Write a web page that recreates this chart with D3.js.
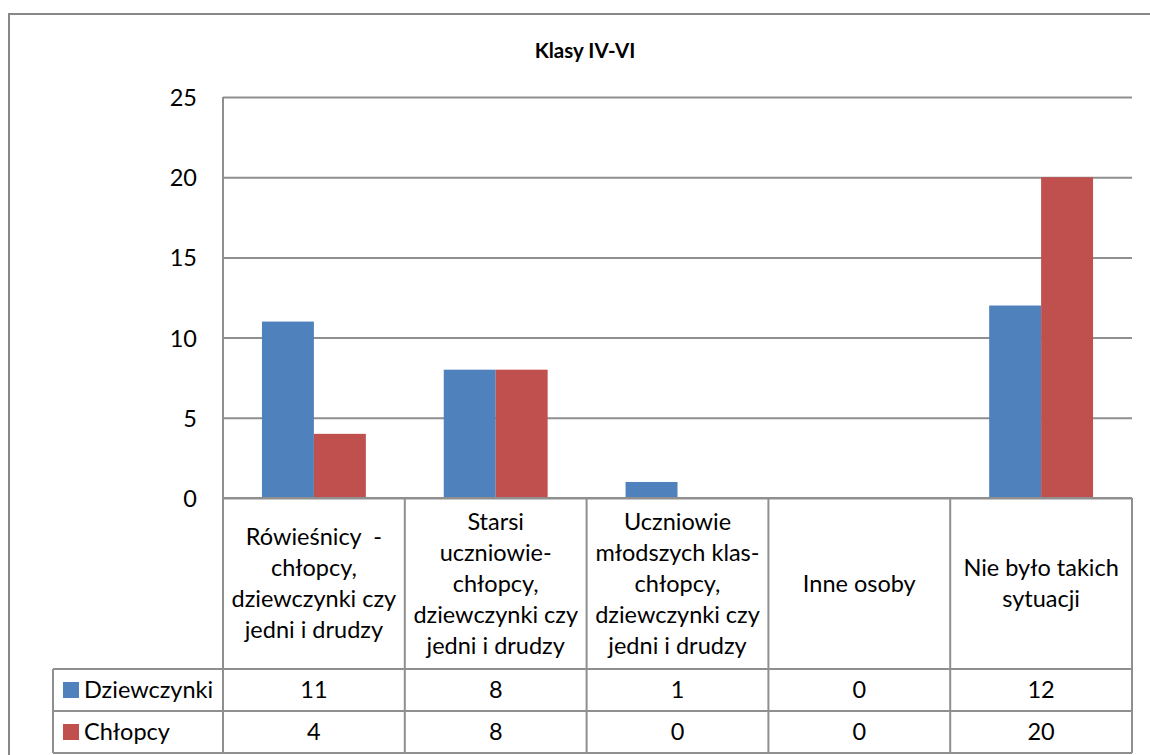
<!DOCTYPE html>
<html>
<head>
<meta charset="utf-8">
<script src="https://cdn.jsdelivr.net/npm/d3@7"></script>
<style>
  html, body { margin: 0; padding: 0; background: #fff; }
  svg { display: block; }
  text { font-family: Lato, "Open Sans", sans-serif; fill: #000; white-space: pre; }
</style>
</head>
<body>
<svg id="chart" width="1150" height="755"></svg>
<script>
// ---- data ----
const categories = [
  ["Rówieśnicy  -", "chłopcy,", "dziewczynki czy", "jedni i drudzy"],
  ["Starsi", "uczniowie-", "chłopcy,", "dziewczynki czy", "jedni i drudzy"],
  ["Uczniowie", "młodszych klas-", "chłopcy,", "dziewczynki czy", "jedni i drudzy"],
  ["Inne osoby"],
  ["Nie było takich", "sytuacji"]
];
const seriesNames = ["Dziewczynki", "Chłopcy"];
const dziewczynki = [11, 8, 1, 0, 12];
const chlopcy = [4, 8, 0, 0, 20];
const yTicks = [0, 5, 10, 15, 20, 25];
const chartTitle = "Klasy IV-VI";

// ---- layout ----
(function () {
const svg = d3.select("#chart");
const colors = d3.scaleOrdinal().domain(seriesNames).range(["#4F81BD", "#C0504D"]);
const values = [dziewczynki, chlopcy];

const plotLeft = 223, plotRight = 1132, plotTop = 97, zeroY = 498;
const headerBottom = 669, row1Bottom = 711, row2Bottom = 753, legendLeft = 53;
const gridColor = "#8f8f8f";
const fs = "23.5px";

// outer frame
svg.append("rect").attr("x", 9).attr("y", 14).attr("width", 1200).attr("height", 800)
  .attr("fill", "none").attr("stroke", "#878787").attr("stroke-width", 2);

// title
svg.append("text").attr("x", 585).attr("y", 58).attr("text-anchor", "middle")
  .style("font-weight", "bold").style("font-size", "20.5px").text(chartTitle);

const x = d3.scaleBand().domain(d3.range(categories.length)).range([plotLeft, plotRight]);
const xs = d3.scaleBand().domain(seriesNames).range([0, x.bandwidth()]).paddingOuter(0.75);
const y = d3.scaleLinear().domain([0, 25]).range([zeroY, plotTop]);

// gridlines
const grid = svg.append("g").attr("transform", `translate(${plotLeft},0)`)
  .call(d3.axisLeft(y).tickValues(yTicks).tickSize(-(plotRight - plotLeft)).tickFormat(""));
grid.select(".domain").remove();
grid.selectAll("line").attr("stroke", gridColor).attr("stroke-width", 2);

// y axis labels
const yAxis = svg.append("g").attr("transform", `translate(${plotLeft},0)`)
  .call(d3.axisLeft(y).tickValues(yTicks).tickSize(0).tickPadding(26));
yAxis.select(".domain").remove();
yAxis.selectAll("text").style("font-size", fs).attr("dy", "0.36em")
  .style("font-family", "Lato, sans-serif").attr("fill", "#000");

// bars
const groups = svg.append("g").selectAll("g").data(categories).join("g")
  .attr("transform", (d, i) => `translate(${x(i)},0)`);
groups.selectAll("rect")
  .data((d, i) => seriesNames.map((s, k) => ({ s, v: values[k][i] })))
  .join("rect")
  .attr("x", d => xs(d.s))
  .attr("width", xs.bandwidth())
  .attr("y", d => y(d.v))
  .attr("height", d => zeroY - y(d.v))
  .attr("fill", d => colors(d.s));

// axis line + data table lines
const tbl = svg.append("g").attr("stroke", gridColor).attr("stroke-width", 2).attr("fill", "none");
x.domain().forEach(i => {
  tbl.append("line").attr("x1", x(i)).attr("x2", x(i))
    .attr("y1", i === 0 ? plotTop : zeroY).attr("y2", row2Bottom);
});
tbl.append("line").attr("x1", plotRight).attr("x2", plotRight).attr("y1", zeroY).attr("y2", row2Bottom);
tbl.append("line").attr("x1", plotLeft).attr("x2", plotRight).attr("y1", zeroY).attr("y2", zeroY);
[headerBottom, row1Bottom, row2Bottom].forEach(yy => {
  tbl.append("line").attr("x1", legendLeft).attr("x2", plotRight).attr("y1", yy).attr("y2", yy);
});
tbl.append("line").attr("x1", legendLeft).attr("x2", legendLeft).attr("y1", headerBottom).attr("y2", row2Bottom);

// category labels
const lineH = 31;
const headMid = (zeroY + headerBottom) / 2;
categories.forEach((lines, i) => {
  const cx = x(i) + x.bandwidth() / 2;
  const t = svg.append("text").attr("text-anchor", "middle").style("font-size", fs);
  const start = headMid - (lines.length - 1) * lineH / 2;
  lines.forEach((ln, j) => {
    t.append("tspan").attr("x", cx).attr("y", start + j * lineH).attr("dy", "0.36em").text(ln);
  });
});

// value rows
const rowMids = [(headerBottom + row1Bottom) / 2, (row1Bottom + row2Bottom) / 2];
seriesNames.forEach((s, k) => {
  const ym = rowMids[k];
  svg.append("rect").attr("x", 63).attr("y", ym - 8).attr("width", 16).attr("height", 16)
    .attr("fill", colors(s));
  svg.append("text").attr("x", 84).attr("y", ym).attr("dy", "0.36em")
    .style("font-size", fs).text(s);
  values[k].forEach((v, i) => {
    svg.append("text").attr("x", x(i) + x.bandwidth() / 2).attr("y", ym).attr("dy", "0.36em")
      .attr("text-anchor", "middle").style("font-size", fs).text(v);
  });
});
})();
</script>
</body>
</html>
